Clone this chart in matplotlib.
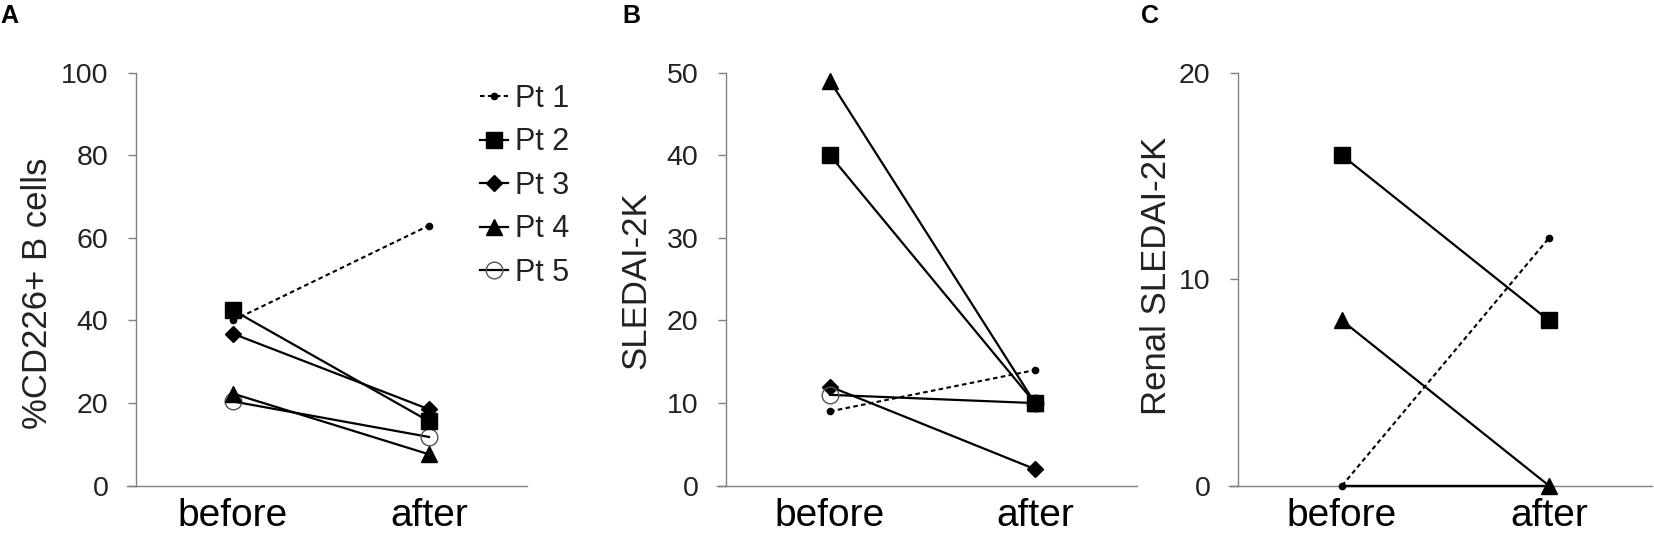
import matplotlib
matplotlib.use("Agg")
import matplotlib.pyplot as plt

plt.rcParams['font.family'] = ['Liberation Sans', 'DejaVu Sans']

# ---------------- data ----------------
timepoints = ["before", "after"]
patients = ["Pt 1", "Pt 2", "Pt 3", "Pt 4", "Pt 5"]

cd226_pct = {
    "Pt 1": [40, 63],
    "Pt 2": [42.5, 15.6],
    "Pt 3": [36.8, 18.5],
    "Pt 4": [22.3, 7.6],
    "Pt 5": [20.4, 11.8],
}
sledai = {
    "Pt 1": [9, 14],
    "Pt 2": [40, 10],
    "Pt 3": [12, 2],
    "Pt 4": [49, 10],
    "Pt 5": [11, 10],
}
renal_sledai = {
    "Pt 1": [0, 12],
    "Pt 2": [16, 8],
    "Pt 3": [0, 0],
    "Pt 4": [8, 0],
    "Pt 5": [0, 0],
}
renal_no_marker = ["Pt 3", "Pt 5"]

ylabels = ["%CD226+ B cells", "SLEDAI-2K", "Renal SLEDAI-2K"]
yticks_list = [[0, 20, 40, 60, 80, 100], [0, 10, 20, 30, 40, 50], [0, 10, 20]]
panel_letters = ["A", "B", "C"]

# ---------------- styles ----------------
styles = {
    "Pt 1": dict(marker="o", ms=4.5, ls=(0, (2.2, 1.6)), lw=1.5, mfc="black", mec="black", zorder=3),
    "Pt 2": dict(marker="s", ms=11, ls="-", lw=1.6, mfc="black", mec="black", zorder=5),
    "Pt 3": dict(marker="D", ms=7.8, ls="-", lw=1.6, mfc="black", mec="black", zorder=3),
    "Pt 4": dict(marker="^", ms=12, ls="-", lw=1.6, mfc="black", mec="black", zorder=3.5),
    "Pt 5": dict(marker="o", ms=12, ls="-", lw=1.6, mfc="none", mec="#555555", mew=1.0, zorder=3),
}

W, H = 1654, 543
fig = plt.figure(figsize=(W / 100, H / 100), dpi=100)

# pixel layout: (axis line left, y-spine x, axis right, x of before, x of after)
layouts = [
    (127, 136, 527, 233, 429),
    (717, 726, 1137, 830, 1035),
    (1229, 1238, 1652, 1342, 1549),
]
y_top, y_bot = 72.7, 485.7
ylabel_pos = [(38, 293), (636, 280), (1157, 276)]
letter_pos = [(0, 16), (622, 16), (1141, 16)]

datasets = [cd226_pct, sledai, renal_sledai]
spine_col = "#808080"
text_col = "#222222"

axes = []
for i, (xl, xs, xr, xb, xa) in enumerate(layouts):
    ax = fig.add_axes([xl / W, 1 - y_bot / H, (xr - xl) / W, (y_bot - y_top) / H])
    axes.append(ax)
    unit = xa - xb
    ax.set_xlim((xl - xb) / unit, (xr - xb) / unit)
    yt = yticks_list[i]
    ax.set_ylim(yt[0], yt[-1])
    ax.set_yticks(yt)
    ax.set_xticks(range(len(timepoints)))
    ax.set_xticklabels(timepoints)
    for s in ["top", "right"]:
        ax.spines[s].set_visible(False)
    for s in ["left", "bottom"]:
        ax.spines[s].set_color(spine_col)
        ax.spines[s].set_linewidth(1.0)
    ax.spines["left"].set_position(("axes", (xs - xl) / (xr - xl)))
    ax.tick_params(axis="y", direction="out", length=5.8, width=1.0, color=spine_col,
                   labelsize=20.5, labelcolor=text_col, pad=14)
    ax.tick_params(axis="x", length=0, labelsize=28, labelcolor="black", pad=9)
    ax.patch.set_visible(False)

    data = datasets[i]
    for p in patients:
        st = dict(styles[p])
        if i == 2 and p in renal_no_marker:
            st["marker"] = "None"
        ax.plot(range(len(timepoints)), data[p], color="black", clip_on=False,
                label=p, **st)

    fig.text(ylabel_pos[i][0] / W, 1 - ylabel_pos[i][1] / H, ylabels[i], rotation=90,
             ha="center", va="center", fontsize=25, color=text_col)
    fig.text(letter_pos[i][0] / W, 1 - letter_pos[i][1] / H, panel_letters[i],
             ha="left", va="center", fontsize=18, fontweight="bold", color="black")

handles, labels = axes[0].get_legend_handles_labels()
leg = fig.legend(handles, labels, loc="upper left",
                 bbox_to_anchor=(480 / W, 1 - 84 / H), frameon=False,
                 fontsize=22, handlelength=0.9, handletextpad=0.25,
                 labelspacing=0.44, borderpad=0, borderaxespad=0, numpoints=1)
for t in leg.get_texts():
    t.set_color(text_col)

fig.savefig("out.png", dpi=100)
